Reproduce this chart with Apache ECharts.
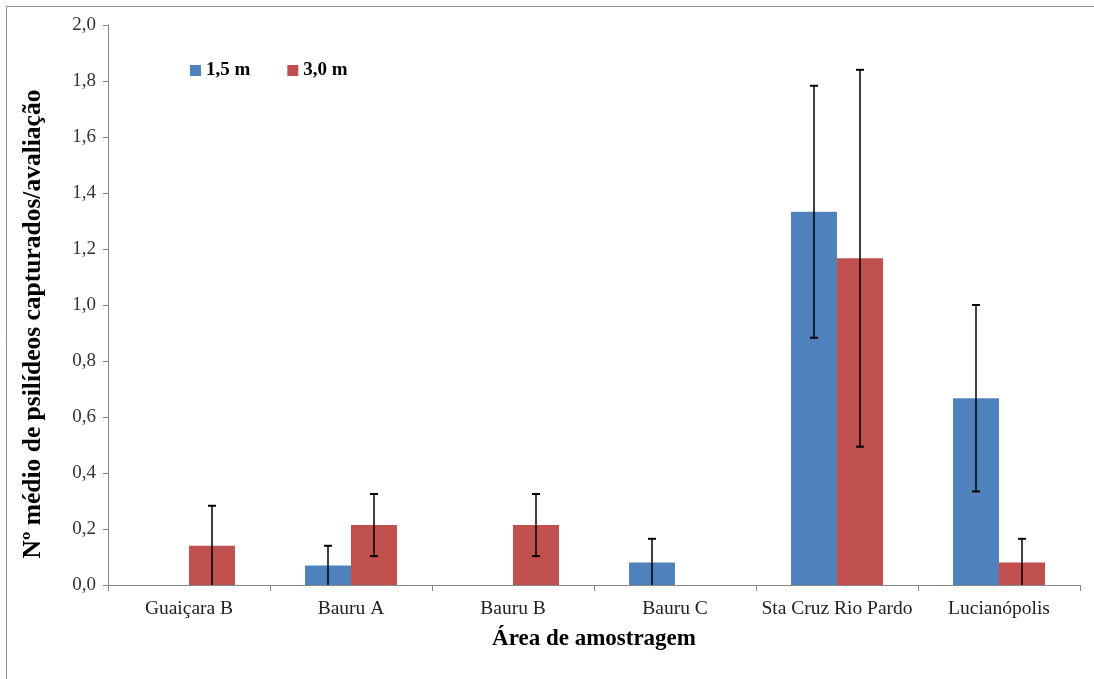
<!DOCTYPE html>
<html>
<head>
<meta charset="utf-8">
<script src="https://cdn.jsdelivr.net/npm/echarts@6/dist/echarts.min.js"></script>
<style>
html,body{margin:0;padding:0;background:#fff;}
#chart{width:1094px;height:679px;}
</style>
</head>
<body>
<div id="chart"></div>
<script>
var categories = ['Guaiçara B', 'Bauru A', 'Bauru B', 'Bauru C', 'Sta Cruz Rio Pardo', 'Lucianópolis'];
var seriesNames = ['1,5 m', '3,0 m'];
var values15 = [0, 0.07, 0, 0.08, 1.333, 0.667];
var values30 = [0.14, 0.214, 0.214, 0, 1.167, 0.08];
var err15 = [0, 0.07, 0, 0.085, 0.45, 0.333];
var err30 = [0.143, 0.111, 0.111, 0, 0.673, 0.085];
var yTicks = [0, 0.2, 0.4, 0.6, 0.8, 1.0, 1.2, 1.4, 1.6, 1.8, 2.0];

var FONT = '"Liberation Serif", "Times New Roman", serif';
var BAR_W = 46;

function errData(vals, errs) {
  var out = [];
  for (var i = 0; i < vals.length; i++) {
    if (vals[i] > 0 && errs[i] > 0) out.push([i, vals[i], errs[i]]);
  }
  return out;
}

function makeErrRender(side) {
  return function (params, api) {
    var idx = api.value(0), v = api.value(1), e = api.value(2);
    var hi = v + e, lo = Math.max(0, v - e);
    var pHi = api.coord([idx, hi]);
    var pLo = api.coord([idx, lo]);
    var x = pHi[0] + side * BAR_W / 2;
    var cw = 4;
    var children = [
      {type: 'line', shape: {x1: x, y1: pHi[1], x2: x, y2: pLo[1]}, style: {stroke: '#000', lineWidth: 1.5}},
      {type: 'line', shape: {x1: x - cw, y1: pHi[1], x2: x + cw, y2: pHi[1]}, style: {stroke: '#000', lineWidth: 2}}
    ];
    if (v - e > 0.001) {
      children.push({type: 'line', shape: {x1: x - cw, y1: pLo[1], x2: x + cw, y2: pLo[1]}, style: {stroke: '#000', lineWidth: 2}});
    }
    return {type: 'group', children: children};
  };
}

var chart = echarts.init(document.getElementById('chart'));
chart.setOption({
  animation: false,
  backgroundColor: '#fff',
  grid: {left: 108, right: 14, top: 25, bottom: 94, containLabel: false},
  legend: {
    data: seriesNames,
    left: 185, top: 56,
    icon: 'rect', itemWidth: 11, itemHeight: 11, itemGap: 37,
    textStyle: {fontFamily: FONT, fontWeight: 'bold', fontSize: 19, color: '#000'}
  },
  xAxis: {
    type: 'category',
    data: categories,
    name: 'Área de amostragem',
    nameLocation: 'middle',
    nameGap: 43,
    nameTextStyle: {fontFamily: FONT, fontWeight: 'bold', fontSize: 23, color: '#000'},
    axisLine: {lineStyle: {color: '#868686', width: 1}},
    axisTick: {show: true, interval: 0, length: 6, lineStyle: {color: '#868686'}},
    axisLabel: {interval: 0, fontFamily: FONT, fontSize: 19.5, color: '#222', margin: 14},
    splitLine: {show: false}
  },
  yAxis: {
    type: 'value',
    min: 0, max: 2.0, interval: 0.2,
    axisLine: {show: true, lineStyle: {color: '#868686', width: 1}},
    axisTick: {show: true, length: 5, lineStyle: {color: '#868686'}},
    axisLabel: {
      fontFamily: FONT, fontSize: 19, color: '#333', margin: 12,
      formatter: function (v) { return v.toFixed(1).replace('.', ','); }
    },
    splitLine: {show: false}
  },
  graphic: [
    {type: 'rect', shape: {x: 6.5, y: 6.5, width: 1120, height: 720}, style: {fill: 'none', stroke: '#8c8c8c', lineWidth: 1}, silent: true, z: -1},
    {type: 'text', x: 33, y: 324, rotation: Math.PI / 2,
      style: {text: 'Nº médio de psilídeos capturados/avaliação', fontFamily: FONT, fontWeight: 'bold', fontSize: 25.5, fill: '#000', align: 'center', verticalAlign: 'middle'}}
  ],
  series: [
    {name: seriesNames[0], type: 'bar', data: values15, barWidth: BAR_W, barGap: '0%', itemStyle: {color: '#4F81BD'}},
    {name: seriesNames[1], type: 'bar', data: values30, barWidth: BAR_W, barGap: '0%', itemStyle: {color: '#C0504D'}},
    {type: 'custom', data: errData(values15, err15), renderItem: makeErrRender(-1), z: 10, silent: true},
    {type: 'custom', data: errData(values30, err30), renderItem: makeErrRender(1), z: 10, silent: true}
  ]
});
</script>
</body>
</html>
